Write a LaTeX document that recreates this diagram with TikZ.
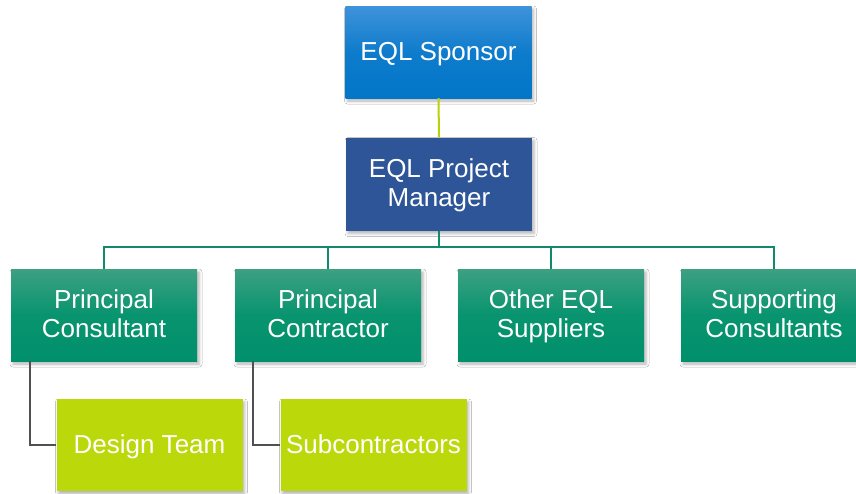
\documentclass[tikz,border=0pt]{standalone}
\usepackage{fontspec}
\setmainfont{Liberation Sans}
\usetikzlibrary{shadows.blur}
\definecolor{sponsorTop}{HTML}{3F93DA}
\definecolor{sponsorBot}{HTML}{0276C8}
\definecolor{pmBlue}{HTML}{2D5597}
\definecolor{tealTop}{HTML}{3DA082}
\definecolor{tealMid}{HTML}{08946F}
\definecolor{tealBot}{HTML}{00906B}
\definecolor{limeBox}{HTML}{BBD80B}
\definecolor{busGreen}{HTML}{12896B}
\definecolor{limeLine}{HTML}{B7D20C}
\definecolor{greyLine}{HTML}{505050}
\tikzset{
  orgbox/.style={rectangle, minimum width=186pt, minimum height=92pt,
    text=white, align=center, inner sep=2pt,
    font=\fontsize{26}{29}\selectfont,
    blur shadow={shadow xshift=2pt, shadow yshift=-3pt,
      shadow blur radius=3pt, shadow opacity=30}},
  oneline/.style={text height=20pt, text depth=4pt},
  twoline/.style={text height=49pt, text depth=4pt},
  sponsorbox/.style={orgbox, oneline, top color=sponsorTop,
    bottom color=sponsorBot, middle color=sponsorBot!80!sponsorTop},
  pmbox/.style={orgbox, twoline, fill=pmBlue},
  tealbox/.style={orgbox, twoline, top color=tealTop, bottom color=tealBot,
    middle color=tealMid},
  limebox/.style={orgbox, oneline, fill=limeBox},
  busline/.style={draw=busGreen, line width=2pt},
  topline/.style={draw=limeLine, line width=2pt},
  subline/.style={draw=greyLine, line width=2.2pt}
}
\begin{document}
\begin{tikzpicture}[x=1pt, y=-1pt]
  \clip (0,0) rectangle (856,493);
  \fill[white] (0,0) rectangle (856,493);

  % boxes
  \node[sponsorbox] (sp) at (438.5,52) {EQL Sponsor};
  \node[pmbox, minimum height=93pt] (pm) at (439,184) {EQL Project\\Manager};

  \node[tealbox] (pc)   at (104,315) {Principal\\Consultant};
  \node[tealbox] (pcon) at (328,315) {Principal\\Contractor};
  \node[tealbox] (oth)  at (551,315) {Other EQL\\Suppliers};
  \node[tealbox] (sup)  at (774,315) {Supporting\\Consultants};

  \node[limebox] (dt) at (149.5,445) {Design Team};
  \node[limebox] (sc) at (373.5,445) {Subcontractors};

  % connectors
  \coordinate (bus) at (0,247);
  \draw[topline] (sp.south) -- (pm.north);
  \draw[busline] (pm.south) -- (pm.south |- bus);
  \draw[busline] (pc.north) -- (pc.north |- bus) -| (sup.north);
  \draw[busline] (pcon.north) -- (pcon.north |- bus);
  \draw[busline] (oth.north) -- (oth.north |- bus);

  \coordinate (pcdrop) at ([xshift=19pt]pc.south west);
  \coordinate (pcondrop) at ([xshift=18pt]pcon.south west);
  \draw[subline] (pcdrop) |- (dt.west);
  \draw[subline] (pcondrop) |- (sc.west);
\end{tikzpicture}
\end{document}
